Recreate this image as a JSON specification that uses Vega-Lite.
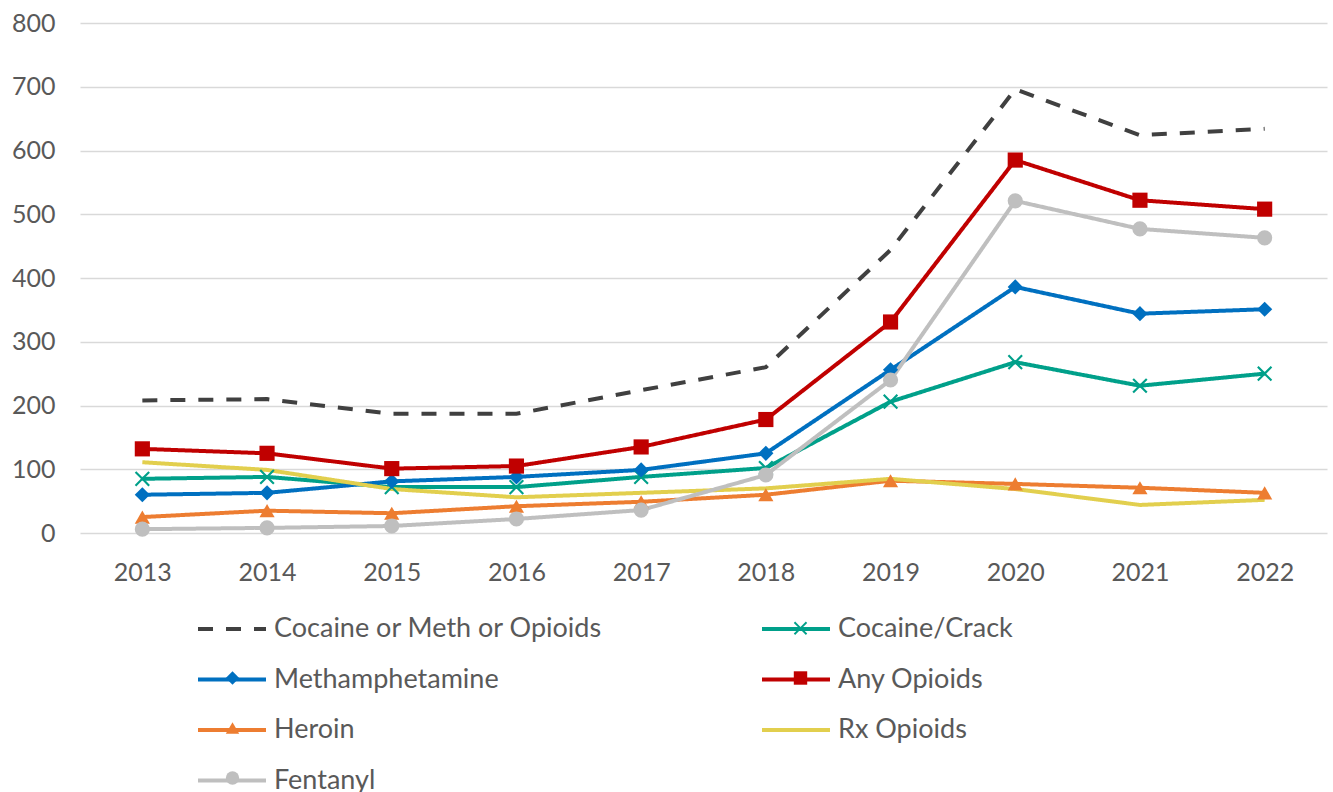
{
  "$schema": "https://vega.github.io/schema/vega-lite/v6.json",
  "width": 1247,
  "height": 510,
  "autosize": {"type": "none"},
  "padding": {"left": 80, "top": 23, "right": 6, "bottom": 259},
  "background": "white",
  "config": {
    "view": {"stroke": null},
    "font": "Lato",
    "axis": {"labelFont": "Lato", "labelFontSize": 25, "labelColor": "#595959", "title": null, "domain": false, "ticks": false},
    "legend": {"labelFont": "Lato", "labelFontSize": 27, "labelColor": "#595959", "title": null, "padding": 0, "offset": 0}
  },
  "data": {"values": [
    {"year": "2013", "series": "Cocaine or Meth or Opioids", "value": 208},
    {"year": "2014", "series": "Cocaine or Meth or Opioids", "value": 210},
    {"year": "2015", "series": "Cocaine or Meth or Opioids", "value": 187},
    {"year": "2016", "series": "Cocaine or Meth or Opioids", "value": 187},
    {"year": "2017", "series": "Cocaine or Meth or Opioids", "value": 224},
    {"year": "2018", "series": "Cocaine or Meth or Opioids", "value": 260},
    {"year": "2019", "series": "Cocaine or Meth or Opioids", "value": 444},
    {"year": "2020", "series": "Cocaine or Meth or Opioids", "value": 696},
    {"year": "2021", "series": "Cocaine or Meth or Opioids", "value": 624},
    {"year": "2022", "series": "Cocaine or Meth or Opioids", "value": 634},
    {"year": "2013", "series": "Cocaine/Crack", "value": 85},
    {"year": "2014", "series": "Cocaine/Crack", "value": 88},
    {"year": "2015", "series": "Cocaine/Crack", "value": 72},
    {"year": "2016", "series": "Cocaine/Crack", "value": 72},
    {"year": "2017", "series": "Cocaine/Crack", "value": 88},
    {"year": "2018", "series": "Cocaine/Crack", "value": 102},
    {"year": "2019", "series": "Cocaine/Crack", "value": 206},
    {"year": "2020", "series": "Cocaine/Crack", "value": 268},
    {"year": "2021", "series": "Cocaine/Crack", "value": 231},
    {"year": "2022", "series": "Cocaine/Crack", "value": 250},
    {"year": "2013", "series": "Methamphetamine", "value": 60},
    {"year": "2014", "series": "Methamphetamine", "value": 63},
    {"year": "2015", "series": "Methamphetamine", "value": 81},
    {"year": "2016", "series": "Methamphetamine", "value": 88},
    {"year": "2017", "series": "Methamphetamine", "value": 99},
    {"year": "2018", "series": "Methamphetamine", "value": 125},
    {"year": "2019", "series": "Methamphetamine", "value": 256},
    {"year": "2020", "series": "Methamphetamine", "value": 386},
    {"year": "2021", "series": "Methamphetamine", "value": 344},
    {"year": "2022", "series": "Methamphetamine", "value": 351},
    {"year": "2013", "series": "Any Opioids", "value": 132},
    {"year": "2014", "series": "Any Opioids", "value": 125},
    {"year": "2015", "series": "Any Opioids", "value": 101},
    {"year": "2016", "series": "Any Opioids", "value": 105},
    {"year": "2017", "series": "Any Opioids", "value": 135},
    {"year": "2018", "series": "Any Opioids", "value": 178},
    {"year": "2019", "series": "Any Opioids", "value": 331},
    {"year": "2020", "series": "Any Opioids", "value": 585},
    {"year": "2021", "series": "Any Opioids", "value": 522},
    {"year": "2022", "series": "Any Opioids", "value": 508},
    {"year": "2013", "series": "Heroin", "value": 25},
    {"year": "2014", "series": "Heroin", "value": 35},
    {"year": "2015", "series": "Heroin", "value": 31},
    {"year": "2016", "series": "Heroin", "value": 42},
    {"year": "2017", "series": "Heroin", "value": 49},
    {"year": "2018", "series": "Heroin", "value": 60},
    {"year": "2019", "series": "Heroin", "value": 82},
    {"year": "2020", "series": "Heroin", "value": 77},
    {"year": "2021", "series": "Heroin", "value": 71},
    {"year": "2022", "series": "Heroin", "value": 63},
    {"year": "2013", "series": "Rx Opioids", "value": 111},
    {"year": "2014", "series": "Rx Opioids", "value": 99},
    {"year": "2015", "series": "Rx Opioids", "value": 69},
    {"year": "2016", "series": "Rx Opioids", "value": 56},
    {"year": "2017", "series": "Rx Opioids", "value": 63},
    {"year": "2018", "series": "Rx Opioids", "value": 70},
    {"year": "2019", "series": "Rx Opioids", "value": 85},
    {"year": "2020", "series": "Rx Opioids", "value": 69},
    {"year": "2021", "series": "Rx Opioids", "value": 44},
    {"year": "2022", "series": "Rx Opioids", "value": 52},
    {"year": "2013", "series": "Fentanyl", "value": 6},
    {"year": "2014", "series": "Fentanyl", "value": 8},
    {"year": "2015", "series": "Fentanyl", "value": 11},
    {"year": "2016", "series": "Fentanyl", "value": 22},
    {"year": "2017", "series": "Fentanyl", "value": 36},
    {"year": "2018", "series": "Fentanyl", "value": 91},
    {"year": "2019", "series": "Fentanyl", "value": 240},
    {"year": "2020", "series": "Fentanyl", "value": 521},
    {"year": "2021", "series": "Fentanyl", "value": 477},
    {"year": "2022", "series": "Fentanyl", "value": 463}
  ]},
  "encoding": {
    "x": {"field": "year", "type": "ordinal", "scale": {"type": "point", "padding": 0.5},
          "axis": {"labelAngle": 0, "labelPadding": 27, "grid": false}},
    "y": {"field": "value", "type": "quantitative", "scale": {"domain": [0, 800], "nice": false},
          "axis": {"values": [0, 100, 200, 300, 400, 500, 600, 700, 800], "grid": true, "gridColor": "#d9d9d9", "gridWidth": 1.5, "labelPadding": 25}}
  },
  "layer": [
    {
      "mark": {"type": "line", "strokeWidth": 4},
      "encoding": {
        "color": {"field": "series", "type": "nominal",
          "scale": {"domain": ["Cocaine or Meth or Opioids", "Cocaine/Crack", "Methamphetamine", "Any Opioids", "Heroin", "Rx Opioids", "Fentanyl"],
                    "range": ["#404040", "#00A08A", "#0070C0", "#C00000", "#ED7D31", "#E2CF4E", "#BFBFBF"]},
          "legend": {"orient": "none", "direction": "horizontal", "legendX": 116, "legendY": 570, "columns": 2, "columnPadding": 151, "rowPadding": 1.5,
                     "symbolType": "stroke", "symbolSize": 4624, "symbolStrokeWidth": 4, "labelOffset": 6, "labelLimit": 500}},
        "strokeDash": {"field": "series", "type": "nominal",
          "scale": {"domain": ["Cocaine or Meth or Opioids", "Cocaine/Crack", "Methamphetamine", "Any Opioids", "Heroin", "Rx Opioids", "Fentanyl"],
                    "range": [[15, 13], [1, 0], [1, 0], [1, 0], [1, 0], [1, 0], [1, 0]]}}
      }
    },
    {
      "mark": {"type": "point", "filled": true, "size": 230, "opacity": 1, "strokeWidth": 0},
      "encoding": {
        "fill": {"field": "series", "type": "nominal",
          "scale": {"domain": ["Cocaine or Meth or Opioids", "Cocaine/Crack", "Methamphetamine", "Any Opioids", "Heroin", "Rx Opioids", "Fentanyl", "none"],
                    "range": ["transparent", "#00A08A", "#0070C0", "#C00000", "#ED7D31", "transparent", "#BFBFBF", "transparent"]},
          "legend": {"orient": "none", "direction": "horizontal", "legendX": 139, "legendY": 591.5, "columns": 2, "columnPadding": 177, "rowPadding": 22,
                     "values": ["Cocaine or Meth or Opioids", "Cocaine/Crack", "Methamphetamine", "Any Opioids", "Heroin", "Rx Opioids", "Fentanyl"],
                     "symbolSize": 180, "symbolStrokeWidth": 0, "labelOffset": 35.5, "labelOpacity": 0, "labelLimit": 500}},
        "shape": {"field": "series", "type": "nominal",
          "scale": {"domain": ["Cocaine or Meth or Opioids", "Cocaine/Crack", "Methamphetamine", "Any Opioids", "Heroin", "Rx Opioids", "Fentanyl", "none"],
                    "range": ["circle", "M-1,-0.8L-0.8,-1L0,-0.2L0.8,-1L1,-0.8L0.2,0L1,0.8L0.8,1L0,0.2L-0.8,1L-1,0.8L-0.2,0Z", "diamond", "square", "triangle-up", "circle", "circle", "circle"]},
          "legend": {"orient": "none", "direction": "horizontal", "legendX": 139, "legendY": 591.5, "columns": 2, "columnPadding": 177, "rowPadding": 22,
                     "values": ["Cocaine or Meth or Opioids", "Cocaine/Crack", "Methamphetamine", "Any Opioids", "Heroin", "Rx Opioids", "Fentanyl"],
                     "symbolSize": 180, "symbolStrokeWidth": 0, "labelOffset": 35.5, "labelOpacity": 0, "labelLimit": 500}}
      }
    }
  ]
}
